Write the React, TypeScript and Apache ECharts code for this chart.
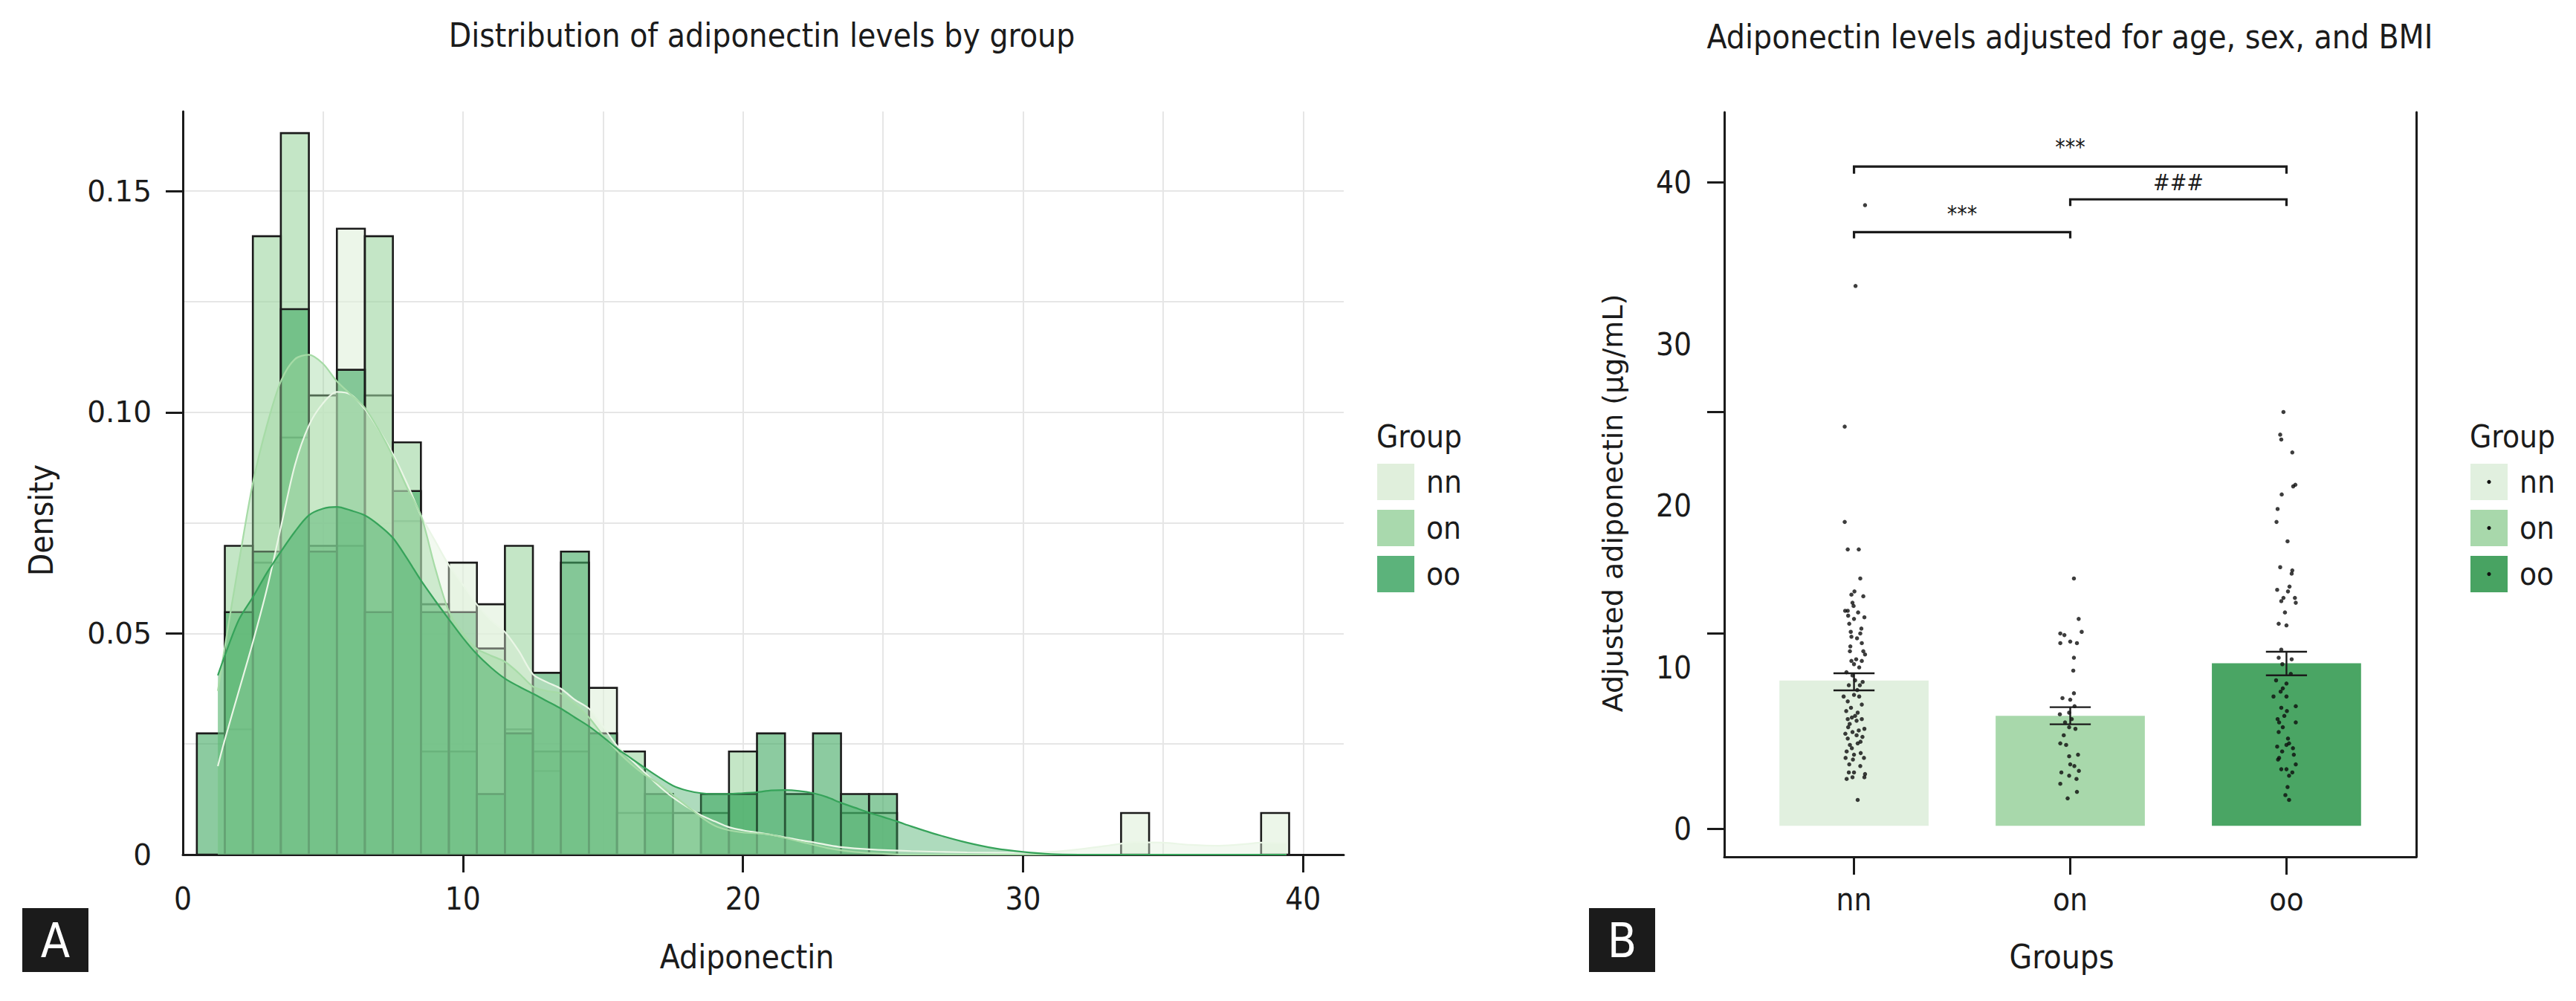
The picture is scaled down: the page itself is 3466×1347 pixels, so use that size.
import React, { useEffect, useRef } from "react";
import * as echarts from "echarts";

// ---------------- shared ----------------
const GROUPS = ["nn", "on", "oo"];
const INK = "#1b1b1b";
const GRID_COLOR = "#e6e6e6";
const CONDENSED = "'Liberation Sans Narrow', 'DejaVu Sans Condensed', 'Noto Sans', sans-serif";
const WIDE = "'DejaVu Sans', 'Noto Sans', sans-serif";

// ---------------- Panel A: histogram + density ----------------
const TITLE_A = "Distribution of adiponectin levels by group";
const X_TITLE_A = "Adiponectin";
const Y_TITLE_A = "Density";
const X_LABELS_A = [0, 10, 20, 30, 40];
const X_TICKS_A = [10, 20, 30, 40];
const Y_LABELS_A = [0, 0.05, 0.1, 0.15];
const Y_TICKS_A = [0.05, 0.1, 0.15];
const BIN_WIDTH = 1;
const BIN_CENTERS = [
  1, 2, 3, 4, 5, 6, 7, 8, 9, 10, 11, 12, 13, 14, 15, 16, 17, 18, 19, 20,
  21, 22, 23, 24, 25, 26, 27, 28, 29, 30, 31, 32, 33, 34, 35, 36, 37, 38, 39,
];
const HIST_NN = [
  0, 0.0283, 0.066, 0.0943, 0.1038, 0.1415, 0.1038, 0.0754, 0.0566, 0.066,
  0.0566, 0.0283, 0.0189, 0.066, 0.0377, 0.0094, 0.0094, 0.0094, 0.0094, 0,
  0, 0, 0, 0.0094, 0.0094, 0, 0, 0, 0, 0, 0, 0, 0, 0.0094, 0, 0, 0, 0, 0.0094,
];
const HIST_ON = [
  0, 0.0698, 0.1398, 0.1631, 0.0698, 0.0698, 0.1398, 0.0932, 0.0233, 0.0233,
  0.0466, 0.0698, 0.0233, 0.0233, 0, 0.0233, 0, 0, 0, 0.0233,
  0, 0, 0, 0, 0, 0, 0, 0, 0, 0, 0, 0, 0, 0, 0, 0, 0, 0, 0,
];
const HIST_OO = [
  0.0274, 0.0548, 0.0685, 0.1233, 0.0685, 0.1096, 0.0548, 0.0822, 0.0548, 0.0548,
  0.0137, 0.0274, 0.0411, 0.0685, 0.0274, 0, 0.0137, 0, 0.0137, 0.0137,
  0.0274, 0.0137, 0.0274, 0.0137, 0.0137, 0, 0, 0, 0, 0, 0, 0, 0, 0, 0, 0, 0, 0, 0,
];
const KDE_NN = [
  [1.25, 0.02], [1.5, 0.026], [2, 0.037], [2.5, 0.048], [3, 0.06], [3.5, 0.074], [4, 0.088],
  [4.5, 0.097], [5, 0.102], [5.5, 0.1046], [6, 0.104], [6.5, 0.1007], [7, 0.096], [7.5, 0.0906],
  [8, 0.084], [8.5, 0.0767], [9, 0.071], [9.5, 0.0654], [10, 0.061], [10.5, 0.0565], [11, 0.053],
  [11.5, 0.0503], [12, 0.046], [12.5, 0.0408], [13, 0.039], [13.5, 0.0375], [14, 0.035],
  [14.5, 0.033], [15, 0.029], [15.5, 0.0246], [16, 0.0215], [16.5, 0.0185], [17, 0.0155],
  [17.5, 0.0129], [18, 0.0108], [18.5, 0.0089], [19, 0.0075], [19.5, 0.0062], [20, 0.0055],
  [20.5, 0.005], [21, 0.0045], [21.5, 0.0039], [22, 0.0033], [22.5, 0.0028], [23, 0.0022],
  [23.5, 0.0017], [24.5, 0.0012], [26, 0.0008], [28, 0.0005], [30, 0.0004], [31, 0.0006],
  [32, 0.0012], [33, 0.002], [34, 0.0028], [35, 0.0027], [36, 0.0022], [37, 0.002],
  [38, 0.0024], [38.5, 0.0027], [39.4, 0.0026],
];
const KDE_ON = [
  [1.25, 0.037], [1.5, 0.047], [2, 0.066], [2.5, 0.084], [3, 0.097], [3.5, 0.107], [4, 0.112],
  [4.5, 0.113], [5, 0.111], [5.5, 0.107], [6, 0.104], [6.5, 0.101], [7, 0.096], [7.5, 0.09],
  [8, 0.083], [8.5, 0.0767], [9, 0.065], [9.5, 0.055], [10, 0.05], [10.5, 0.0465], [11, 0.045],
  [11.5, 0.0436], [12, 0.041], [12.5, 0.038], [13, 0.037], [13.5, 0.0364], [14, 0.034],
  [14.5, 0.031], [15, 0.027], [15.5, 0.0235], [16, 0.0205], [16.5, 0.018], [17, 0.016],
  [17.5, 0.0135], [18, 0.011], [18.5, 0.0085], [19, 0.0065], [19.5, 0.0055], [20, 0.005],
  [20.5, 0.0048], [21, 0.0045], [22, 0.003], [23, 0.0015], [24, 0.0006], [25, 0.0002],
  [26, 0], [39.4, 0],
];
const KDE_OO = [
  [1.25, 0.0405], [1.5, 0.045], [2, 0.0531], [2.5, 0.0582], [3, 0.0637], [3.5, 0.0685],
  [4, 0.073], [4.5, 0.0767], [5, 0.0782], [5.5, 0.0786], [6, 0.0778], [6.5, 0.0767],
  [7, 0.0745], [7.5, 0.0716], [8, 0.067], [8.5, 0.062], [9, 0.0575], [9.5, 0.0532],
  [10, 0.049], [10.5, 0.0453], [11, 0.0423], [11.5, 0.0398], [12, 0.038], [12.5, 0.0364],
  [13, 0.0347], [13.5, 0.033], [14, 0.031], [14.5, 0.029], [15, 0.0266], [15.5, 0.024],
  [16, 0.0218], [16.5, 0.0196], [17, 0.0175], [17.5, 0.0156], [18, 0.0145], [18.5, 0.0139],
  [19, 0.0137], [19.5, 0.0137], [20, 0.0139], [20.5, 0.0141], [21, 0.0145], [21.5, 0.0146],
  [22, 0.0144], [22.5, 0.0139], [23, 0.013], [23.5, 0.0117], [24, 0.0106], [24.5, 0.0095],
  [25, 0.0085], [25.5, 0.0075], [26, 0.0064], [27, 0.0044], [28, 0.0027], [29, 0.0014],
  [30, 0.0006], [31, 0.0001], [32, 0], [39.4, 0],
];
const HIST_COLORS = ["#dff0db", "#9dd6a0", "#3fa961"];
const KDE_LINE_COLORS = ["#eaf6e6", "#a6dba6", "#36a35a"];
const LEGEND_A_COLORS = ["#e0efdc", "#a9d9ad", "#5cb37b"];

// ---------------- Panel B: adjusted means ----------------
const TITLE_B = "Adiponectin levels adjusted for age, sex, and BMI";
const X_TITLE_B = "Groups";
const Y_TITLE_B = "Adjusted adiponectin (\u03bcg/mL)";
const Y_LABELS_B = [0, 10, 20, 30, 40];
const Y_TICKS_B = [0, 12.1, 25.8, 40];
const MEANS = [9.19, 7.0, 10.26];
const SE_LOW = [8.58, 6.48, 9.51];
const SE_HIGH = [9.64, 7.54, 10.97];
const BAR_BASE = 0.2;
const BAR_COLORS = ["#e1f0df", "#a8d8ab", "#4aa564"];
// [jitter offset from group centre, value]
const POINTS_NN = [
  [0.051, 38.6], [0.007, 33.6], [-0.043, 24.9], [-0.043, 19.0], [-0.029, 17.3], [0.022, 17.3],
  [0.029, 15.5], [-0.012, 14.5], [0.002, 14.7], [0.043, 14.4], [-0.007, 14.0], [-0.002, 13.8],
  [-0.029, 13.5], [-0.041, 13.5], [0.019, 13.4], [-0.027, 13.2], [0.048, 13.1], [0.0, 13.0],
  [-0.022, 12.7], [0.034, 12.4], [0.029, 12.1], [-0.012, 11.9], [0.014, 11.8], [-0.017, 11.3],
  [0.036, 11.5], [-0.019, 11.0], [0.043, 11.0], [0.051, 10.8], [0.01, 10.5], [-0.012, 10.4],
  [0.036, 10.4], [0.0, 10.2], [0.024, 10.0], [-0.007, 9.5], [0.005, 9.2], [-0.024, 8.9],
  [0.027, 8.9], [-0.048, 8.2], [0.0, 8.3], [0.024, 8.2], [-0.029, 7.9], [0.036, 7.7],
  [-0.014, 7.5], [-0.036, 7.3], [0.017, 7.2], [-0.029, 6.8], [-0.01, 6.9], [0.012, 6.7],
  [0.036, 6.8], [-0.027, 6.3], [0.048, 6.2], [-0.007, 6.0], [0.012, 5.8], [0.039, 5.7],
  [-0.029, 5.6], [-0.019, 5.2], [0.017, 5.3], [-0.034, 4.8], [0.031, 4.7], [0.0, 4.6],
  [-0.039, 4.4], [-0.005, 4.3], [0.046, 4.4], [-0.022, 4.0], [0.029, 3.9], [0.0, 3.5],
  [-0.024, 3.5], [0.051, 3.4], [-0.034, 3.1], [-0.007, 3.2], [0.048, 3.2], [0.017, 1.8],
  [0.005, 7.0], [-0.02, 6.5], [0.022, 6.1], [-0.04, 5.9], [0.03, 5.4], [-0.01, 5.0],
  [0.015, 8.6], [-0.035, 9.7], [0.04, 9.1], [-0.015, 12.2],
];
const POINTS_ON = [
  [0.017, 15.5], [0.039, 13.0], [-0.046, 12.1], [-0.027, 12.0], [0.053, 12.2], [-0.046, 11.5],
  [0.0, 11.6], [0.031, 11.5], [0.017, 10.6], [0.014, 9.8], [0.017, 8.4], [-0.036, 8.1],
  [0.0, 8.0], [-0.048, 7.1], [-0.005, 7.2], [0.007, 6.8], [-0.024, 6.6], [-0.005, 6.3],
  [0.024, 6.2], [-0.046, 5.3], [-0.019, 5.2], [0.036, 4.6], [-0.005, 4.5], [0.0, 4.0],
  [0.019, 3.9], [-0.041, 3.5], [-0.005, 3.3], [0.029, 3.1], [-0.046, 2.8], [0.031, 2.3],
  [-0.012, 1.9], [0.02, 7.6], [-0.03, 5.8], [0.04, 3.6],
];
const POINTS_OO = [
  [-0.014, 25.8], [-0.029, 24.4], [-0.024, 24.1], [0.027, 23.3], [0.031, 21.2], [0.041, 21.3],
  [-0.022, 20.7], [-0.041, 19.8], [-0.046, 19.0], [0.005, 17.8], [-0.029, 16.2], [0.027, 16.0],
  [0.024, 15.8], [-0.043, 14.8], [0.014, 15.0], [0.007, 14.7], [-0.014, 14.3], [-0.024, 14.1],
  [0.039, 14.3], [0.043, 14.0], [-0.007, 13.4], [-0.036, 12.7], [0.0, 12.6], [-0.024, 11.1],
  [-0.036, 10.6], [0.024, 10.5], [-0.019, 10.2], [-0.048, 9.2], [0.0, 9.0], [-0.017, 8.7],
  [-0.027, 8.5], [0.0, 8.2], [-0.06, 8.2], [0.043, 7.6], [-0.024, 7.5], [0.002, 7.3],
  [-0.041, 6.8], [-0.034, 6.6], [0.043, 6.6], [-0.017, 6.3], [-0.036, 6.0], [0.007, 5.6],
  [0.012, 5.3], [0.0, 5.2], [-0.043, 5.1], [0.034, 4.6], [-0.034, 4.4], [-0.039, 4.3],
  [0.043, 4.0], [0.0, 3.7], [-0.024, 3.7], [0.027, 3.5], [0.012, 3.3], [0.005, 2.6],
  [-0.005, 2.1], [0.012, 1.8], [0.02, 9.6], [-0.01, 7.0], [0.03, 5.0], [-0.02, 4.8],
];
const BRACKET_FROM = [0, 1, 0];
const BRACKET_TO = [1, 2, 2];
const BRACKET_Y = [36.93, 38.96, 40.99];
const BRACKET_TIP = [36.54, 38.54, 40.54];
const BRACKET_LABELS = ["***", "###", "***"];
const BRACKET_LABEL_Y = [37.4, 39.3, 41.5];
const LEGEND_B_COLORS = ["#e1f0df", "#a8d8ab", "#48a362"];

function rgba(hex: string, a: number) {
  const n = parseInt(hex.slice(1), 16);
  return `rgba(${(n >> 16) & 255},${(n >> 8) & 255},${n & 255},${a})`;
}

function histSeries(name: string, values: number[], color: string) {
  return {
    type: "custom",
    name,
    xAxisIndex: 0,
    yAxisIndex: 0,
    z: 2,
    clip: true,
    encode: { x: 0, y: 1 },
    data: BIN_CENTERS.map((c, i) => [c, values[i]]).filter((d) => d[1] > 0),
    renderItem: (params: any, api: any) => {
      const c = api.value(0);
      const h = api.value(1);
      const p1 = api.coord([c - BIN_WIDTH / 2, h]);
      const p2 = api.coord([c + BIN_WIDTH / 2, 0]);
      return {
        type: "rect",
        shape: { x: p1[0], y: p1[1], width: p2[0] - p1[0], height: p2[1] - p1[1] },
        style: { fill: rgba(color, 0.6), stroke: INK, lineWidth: 2.6 },
      };
    },
  };
}

function kdeSeries(name: string, pts: number[][], fill: string, line: string) {
  return {
    type: "line",
    name,
    xAxisIndex: 0,
    yAxisIndex: 0,
    z: 3,
    data: pts,
    smooth: 0.3,
    symbol: "none",
    showSymbol: false,
    lineStyle: { color: line, width: 2.2 },
    areaStyle: { color: rgba(fill, 0.6) },
  };
}

function pointSeries(group: number, pts: number[][]) {
  return {
    type: "scatter",
    xAxisIndex: 1,
    yAxisIndex: 1,
    z: 4,
    symbol: "circle",
    symbolSize: 5.5,
    itemStyle: { color: "#0d0d0d" },
    data: pts.map((p) => [group + p[0], p[1]]),
  };
}

function legend(x0: number, colors: string[], withDot: boolean) {
  const items: any[] = [
    {
      type: "text",
      x: x0,
      y: 587,
      style: { text: "Group", fontFamily: CONDENSED, fontSize: 42, fill: INK, align: "left", verticalAlign: "middle" },
    },
  ];
  GROUPS.forEach((g, i) => {
    const top = 624 + i * 62;
    items.push({
      type: "rect",
      shape: { x: x0 + 1, y: top, width: 50, height: 49 },
      style: { fill: colors[i] },
    });
    if (withDot) {
      items.push({ type: "circle", shape: { cx: x0 + 26, cy: top + 24.5, r: 2.6 }, style: { fill: "#111" } });
    }
    items.push({
      type: "text",
      x: x0 + 67,
      y: top + 24,
      style: { text: g, fontFamily: CONDENSED, fontSize: 42, fill: INK, align: "left", verticalAlign: "middle" },
    });
  });
  return items;
}

function gridAxis(min: number, max: number, interval: number) {
  // invisible axis that only provides the panel-A grid lines
  return {
    gridIndex: 0,
    type: "value",
    min,
    max,
    interval,
    axisLine: { show: false },
    axisTick: { show: false },
    axisLabel: { show: false },
    splitLine: { show: true, showMinLine: false, showMaxLine: false, lineStyle: { color: GRID_COLOR, width: 2 } },
  };
}

function buildOption() {
  const axisLine = { show: true, onZero: false, lineStyle: { color: INK, width: 3 } };
  const tickStyle = { color: INK, width: 3 };
  return {
    animation: false,
    backgroundColor: "#ffffff",
    grid: [
      { left: 246, top: 150, width: 1562, height: 1000 },
      { left: 2320, top: 151, width: 931, height: 1002 },
    ],
    xAxis: [
      {
        gridIndex: 0,
        type: "value",
        min: 0,
        max: 41.45,
        axisLine,
        axisTick: { show: true, length: 24, lineStyle: tickStyle, customValues: X_TICKS_A },
        axisLabel: { customValues: X_LABELS_A, fontFamily: CONDENSED, fontSize: 42, color: INK, margin: 38 },
        splitLine: { show: false },
      },
      {
        gridIndex: 1,
        type: "value",
        min: -0.6,
        max: 2.6,
        axisLine,
        axisTick: { show: true, length: 24, lineStyle: tickStyle, customValues: [0, 1, 2] },
        axisLabel: {
          customValues: [0, 1, 2],
          formatter: (v: number) => GROUPS[Math.round(v)] ?? "",
          fontFamily: CONDENSED,
          fontSize: 42,
          color: INK,
          margin: 36,
        },
        splitLine: { show: false },
      },
      gridAxis(0, 41.45, 5),
    ],
    yAxis: [
      {
        gridIndex: 0,
        type: "value",
        min: 0,
        max: 0.168,
        axisLine,
        axisTick: { show: true, length: 23, lineStyle: tickStyle, customValues: Y_TICKS_A },
        axisLabel: {
          customValues: Y_LABELS_A,
          formatter: (v: number) => (v === 0 ? "0" : v.toFixed(2)),
          fontFamily: WIDE,
          fontSize: 39,
          color: INK,
          margin: 42,
        },
        splitLine: { show: false },
      },
      {
        gridIndex: 1,
        type: "value",
        min: -1.72,
        max: 44.35,
        axisLine,
        axisTick: { show: true, length: 23, lineStyle: tickStyle, customValues: Y_TICKS_B },
        axisLabel: { customValues: Y_LABELS_B, fontFamily: CONDENSED, fontSize: 42, color: INK, margin: 44 },
        splitLine: { show: false },
      },
      {
        gridIndex: 1,
        type: "value",
        position: "right",
        min: -1.72,
        max: 44.35,
        axisLine: { show: true, onZero: false, lineStyle: { color: INK, width: 3 } },
        axisTick: { show: false },
        axisLabel: { show: false },
        splitLine: { show: false },
      },
      gridAxis(0, 0.168, 0.025),
    ],
    series: [
      histSeries("nn", HIST_NN, HIST_COLORS[0]),
      histSeries("on", HIST_ON, HIST_COLORS[1]),
      histSeries("oo", HIST_OO, HIST_COLORS[2]),
      kdeSeries("nn density", KDE_NN, HIST_COLORS[0], KDE_LINE_COLORS[0]),
      kdeSeries("on density", KDE_ON, HIST_COLORS[1], KDE_LINE_COLORS[1]),
      kdeSeries("oo density", KDE_OO, HIST_COLORS[2], KDE_LINE_COLORS[2]),
      {
        type: "custom",
        name: "means",
        xAxisIndex: 1,
        yAxisIndex: 1,
        z: 1,
        encode: { x: 0, y: 1 },
        data: MEANS.map((m, i) => [i, m]),
        renderItem: (params: any, api: any) => {
          const i = api.value(0);
          const p1 = api.coord([i - 0.345, api.value(1)]);
          const p2 = api.coord([i + 0.345, BAR_BASE]);
          return {
            type: "rect",
            shape: { x: p1[0], y: p1[1], width: p2[0] - p1[0], height: p2[1] - p1[1] },
            style: { fill: BAR_COLORS[params.dataIndex] },
          };
        },
      },
      {
        type: "custom",
        name: "se",
        xAxisIndex: 1,
        yAxisIndex: 1,
        z: 5,
        encode: { x: 0, y: [1, 2] },
        data: MEANS.map((m, i) => [i, SE_LOW[i], SE_HIGH[i]]),
        renderItem: (params: any, api: any) => {
          const i = api.value(0);
          const lo = api.coord([i, api.value(1)]);
          const hi = api.coord([i, api.value(2)]);
          const l = api.coord([i - 0.095, 0])[0];
          const r = api.coord([i + 0.095, 0])[0];
          const st = { stroke: INK, lineWidth: 2.4 };
          return {
            type: "group",
            children: [
              { type: "line", shape: { x1: lo[0], y1: lo[1], x2: hi[0], y2: hi[1] }, style: st },
              { type: "line", shape: { x1: l, y1: lo[1], x2: r, y2: lo[1] }, style: st },
              { type: "line", shape: { x1: l, y1: hi[1], x2: r, y2: hi[1] }, style: st },
            ],
          };
        },
      },
      pointSeries(0, POINTS_NN),
      pointSeries(1, POINTS_ON),
      pointSeries(2, POINTS_OO),
      {
        type: "custom",
        name: "brackets",
        xAxisIndex: 1,
        yAxisIndex: 1,
        z: 5,
        encode: { x: [0, 1], y: 2 },
        data: BRACKET_FROM.map((f, i) => [f, BRACKET_TO[i], BRACKET_Y[i], BRACKET_TIP[i], BRACKET_LABEL_Y[i]]),
        renderItem: (params: any, api: any) => {
          const a = api.value(0);
          const b = api.value(1);
          const y = api.value(2);
          const tip = api.value(3);
          const ly = api.value(4);
          const p0 = api.coord([a, tip]);
          const p1 = api.coord([a, y]);
          const p2 = api.coord([b, y]);
          const p3 = api.coord([b, tip]);
          const lp = api.coord([(a + b) / 2, ly]);
          return {
            type: "group",
            children: [
              {
                type: "polyline",
                shape: { points: [p0, p1, p2, p3] },
                style: { stroke: INK, lineWidth: 3.2, fill: "none" },
              },
              {
                type: "text",
                x: lp[0],
                y: lp[1],
                style: {
                  text: BRACKET_LABELS[params.dataIndex],
                  fontFamily: CONDENSED,
                  fontSize: 30,
                  fill: INK,
                  align: "center",
                  verticalAlign: "bottom",
                },
              },
            ],
          };
        },
      },
    ],
    graphic: [
      {
        type: "text",
        x: 1025,
        y: 47,
        style: { text: TITLE_A, fontFamily: CONDENSED, fontSize: 44, fill: INK, align: "center", verticalAlign: "middle" },
      },
      {
        type: "text",
        x: 2785,
        y: 49,
        style: { text: TITLE_B, fontFamily: CONDENSED, fontSize: 44, fill: INK, align: "center", verticalAlign: "middle" },
      },
      {
        type: "text",
        x: 55,
        y: 700,
        rotation: Math.PI / 2,
        style: { text: Y_TITLE_A, fontFamily: CONDENSED, fontSize: 44, fill: INK, align: "center", verticalAlign: "middle" },
      },
      {
        type: "text",
        x: 1005,
        y: 1287,
        style: { text: X_TITLE_A, fontFamily: CONDENSED, fontSize: 44, fill: INK, align: "center", verticalAlign: "middle" },
      },
      {
        type: "text",
        x: 2774,
        y: 1287,
        style: { text: X_TITLE_B, fontFamily: CONDENSED, fontSize: 44, fill: INK, align: "center", verticalAlign: "middle" },
      },
      {
        type: "text",
        x: 2170,
        y: 677,
        rotation: Math.PI / 2,
        style: { text: Y_TITLE_B, fontFamily: WIDE, fontSize: 38, fill: INK, align: "center", verticalAlign: "middle" },
      },
      { type: "rect", shape: { x: 30, y: 1222, width: 89, height: 86 }, style: { fill: INK } },
      {
        type: "text",
        x: 74.5,
        y: 1266,
        style: { text: "A", fontFamily: CONDENSED, fontSize: 64, fill: "#ffffff", align: "center", verticalAlign: "middle" },
      },
      { type: "rect", shape: { x: 2138, y: 1222, width: 89, height: 86 }, style: { fill: INK } },
      {
        type: "text",
        x: 2182.5,
        y: 1266,
        style: { text: "B", fontFamily: CONDENSED, fontSize: 64, fill: "#ffffff", align: "center", verticalAlign: "middle" },
      },
      ...legend(1852, LEGEND_A_COLORS, false),
      ...legend(3323, LEGEND_B_COLORS, true),
    ],
  };
}

export default function App() {
  const ref = useRef<HTMLDivElement>(null);
  useEffect(() => {
    if (!ref.current) return;
    const chart = echarts.init(ref.current, null, { renderer: "svg" });
    chart.setOption(buildOption() as any);
    return () => chart.dispose();
  }, []);
  return (
    <div
      ref={ref}
      style={{ position: "absolute", left: 0, top: 0, width: 3466, height: 1347, background: "#ffffff" }}
    />
  );
}
